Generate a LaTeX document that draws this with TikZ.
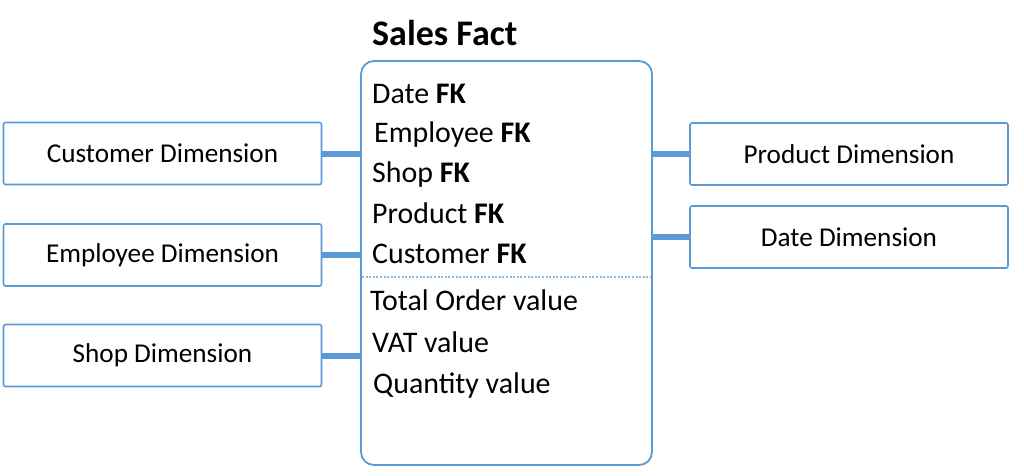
\documentclass[tikz,border=0pt]{standalone}
\usepackage{fontspec}
\setmainfont{Carlito}
\definecolor{boxblue}{RGB}{91,155,213}
\definecolor{sepblue}{RGB}{140,185,228}
\begin{document}
\begin{tikzpicture}[x=1pt,y=-1pt,
  dimbox/.style={draw=boxblue,line width=1.6pt,rounded corners=2pt,minimum width=318pt,minimum height=62pt,inner sep=0pt,font=\fontsize{27.2}{30}\selectfont,text=black},
  factbox/.style={draw=boxblue,line width=1.8pt,rounded corners=13pt,minimum width=291pt,minimum height=404pt,inner sep=0pt},
  item/.style={anchor=base west,inner sep=0pt,font=\fontsize{29.9}{33}\selectfont,text=black},
  link/.style={draw=boxblue,line width=6pt},
  sep/.style={draw=sepblue,line width=1.1pt,dash pattern=on 2pt off 1.6pt}]
\useasboundingbox (0,0) rectangle (1024,475);
\fill[white] (0,0) rectangle (1024,475);
\node[factbox] (fact) at (506.5,263) {};
\node[anchor=base west,inner sep=0pt,font=\fontsize{36}{40}\selectfont\bfseries] (title) at (372,45) {Sales Fact};
\node[dimbox] (cust) at (162.5,153.5) {Customer Dimension};
\node[dimbox] (emp) at (162.5,255) {Employee Dimension};
\node[dimbox] (shop) at (162.5,355.5) {Shop Dimension};
\node[dimbox] (prod) at (849,154) {Product Dimension};
\node[dimbox] (date) at (849,237) {Date Dimension};
\node[item] (i1) at (372,103) {Date \textbf{FK}};
\node[item] (i2) at (374,142) {Employee \textbf{FK}};
\node[item] (i3) at (372,182) {Shop \textbf{FK}};
\node[item] (i4) at (372,223) {Product \textbf{FK}};
\node[item] (i5) at (372,263) {Customer \textbf{FK}};
\node[item] (i6) at (370,310) {Total Order value};
\node[item] (i7) at (372,352) {VAT value};
\node[item] (i8) at (373,393) {Quantity value};
\coordinate (s1) at (362,277);
\coordinate (s2) at (651,277);
\draw[sep] (s1) -- (s2);
\draw[link] (cust.east) -- (fact.west |- cust.east);
\draw[link] (emp.east) -- (fact.west |- emp.east);
\draw[link] (shop.east) -- (fact.west |- shop.east);
\draw[link] (prod.west) -- (fact.east |- prod.west);
\draw[link] (date.west) -- (fact.east |- date.west);
\end{tikzpicture}
\end{document}
